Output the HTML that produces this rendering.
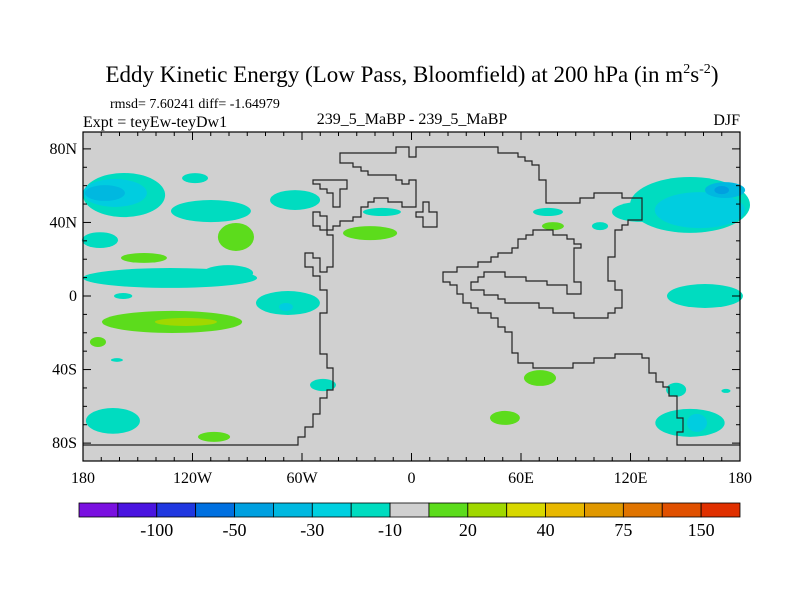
<!DOCTYPE html>
<html><head><meta charset="utf-8"><style>
html,body{margin:0;padding:0;background:#fff;}
svg{display:block;font-family:"Liberation Serif",serif;}
</style></head><body>
<svg id="chart" width="800" height="600" viewBox="0 0 800 600">
<text x="412" y="82" text-anchor="middle" font-size="23">Eddy Kinetic Energy (Low Pass, Bloomfield) at 200 hPa (in m<tspan dy="-9" font-size="14">2</tspan><tspan dy="9">s</tspan><tspan dy="-9" font-size="14">-2</tspan><tspan dy="9">)</tspan></text>
<text x="110" y="108" font-size="14">rmsd= 7.60241 diff= -1.64979</text>
<text x="83" y="127" font-size="16">Expt = teyEw-teyDw1</text>
<text x="412" y="124" text-anchor="middle" font-size="16">239_5_MaBP - 239_5_MaBP</text>
<text x="740" y="125" text-anchor="end" font-size="16">DJF</text>
<rect x="83" y="132" width="657" height="329" fill="#d0d0d0"/>
<g id="blobs"></g>
<g fill="none" stroke="#222" stroke-width="1.2">
<polyline points="83,445 298,445 298,437 305,437 305,427 313,427 313,414 320,414 320,398 327,398 327,390 333,390 333,368 327,368 327,354 320,354 320,313 327,313 327,290 320,290 320,276 313,276 313,267 305,267 305,253 313,253 313,258 320,258 320,272 327,272 327,267 333,267 333,235 327,235 327,230 320,230 320,226 313,226 313,212 320,212 320,216 327,216 327,230 333,230 333,226 340,226 340,221 353,221 353,217 361,217 361,207 368,207 368,202 374,202 374,198 388,198 388,202 402,202 402,207 416,207 416,180 409,180 409,184 402,184 402,180 396,180 396,175 368,175 368,171 361,171 361,167 353,167 353,163 340,163 340,153 396,153 396,147 409,147 409,157 416,157 416,147 498,147 498,153 518,153 518,157 525,157 525,161 532,161 532,165 539,165 539,180 546,180 546,203 580,203 580,198 594,198 594,193 622,193 622,198 642,198 642,220 628,220 628,225 622,225 622,230 615,230 615,257 608,257 608,281 615,281 615,290 622,290 622,308 615,308 615,313 608,313 608,318 574,318 574,313 553,313 553,308 539,308 539,303 505,303 505,299 498,299 498,295 484,295 484,290 471,290 471,282 478,282 478,277 484,277 484,272 505,272 505,277 526,277 526,281 547,281 547,285 567,285 567,294 581,294 581,282 574,282 574,248 581,248 581,244 574,244 574,239 567,239 567,235 553,235 553,230 533,230 533,235 526,235 526,239 518,239 518,248 512,248 512,253 498,253 498,257 491,257 491,262 478,262 478,267 457,267 457,272 443,272 443,282 450,282 450,285 457,285 457,294 463,294 463,303 471,303 471,308 478,308 478,313 491,313 491,318 498,318 498,327 505,327 505,332 512,332 512,353 518,353 518,363 533,363 533,368 573,368 573,363 594,363 594,358 615,358 615,354 642,354 642,358 649,358 649,373 656,373 656,382 663,382 663,387 669,387 669,396 677,396 677,418 683,418 683,432 677,432 677,445 740,445"/>
<polygon points="313,180 347,180 347,189 340,189 340,207 333,207 333,193 327,193 327,189 320,189 320,184 313,184"/>
<polygon points="416,212 423,212 423,202 429,202 429,212 437,212 437,227 423,227 423,217 416,217"/>
</g>
<g id="axes"></g>
<rect x="83" y="132" width="657" height="329" fill="none" stroke="#000" stroke-width="1.2"/>
<g id="cbar"></g>
</svg>
<script>
const NS='http://www.w3.org/2000/svg';
// blob data: lon, lat, lon-radius, lat-radius, level index
const blobLon=[-157.5,-162.5,-168,-118.6,-109.9,-96.2,-170.7,-146.6,-132.3,-100.5,-158,-67.7,-68.8,-131.2,-123.6,-171.8,-161.4,-48.5,-163.6,-108.2,-63.8,-16.2,-22.7,74.8,77.5,103.3,152.6,125.2,158,171.8,170,160.8,70.4,51.2,145,152.6,156.4,172.3];
const blobLat=[54.9,56,56,64.1,46.2,32.1,30.4,20.7,9.8,12.5,0,-3.8,-6,-14.1,-14.1,-25,-34.8,-48.4,-67.9,-76.6,52.2,45.7,34.2,45.7,38,38,49.5,45.7,46.7,57.6,57.6,0,-44.6,-66.3,-51,-69,-69,-51.6];
const blobRLon=[22.5,17.5,11,7.1,21.9,9.9,9.9,12.6,47.7,13.7,5,17.5,3.8,38.4,17,4.4,3.3,7.1,14.8,8.8,13.7,10.4,14.8,8.2,6,4.4,32.9,15.3,24.7,11,4,20.8,8.8,8.2,5.5,19,5.5,2.5];
const blobRLat=[12,7.6,4.3,2.7,6,7.6,4.3,2.7,5.4,4.3,1.6,6.5,2.2,6,2.2,2.7,1,3.3,7,2.7,5.4,2.2,3.8,2.2,2.2,2.2,15.2,5.4,9.8,4.3,2.2,6.5,4.3,3.8,3.8,7.6,4.9,1.1];
const blobLevel=[-10,-20,-30,-10,-10,10,-10,10,-10,-10,-10,-10,-20,10,20,10,-10,-10,-10,10,-10,-10,10,-10,10,-10,-10,-10,-20,-30,-40,-10,10,10,-10,-10,-20,-10];
const levelColor={'-40':'#00a0e0','-30':'#00b8e0','-20':'#00cde0','-10':'#00dcc0','10':'#5cdc1c','20':'#a0d800'};
const cbarColors=['#7a10e0','#4a14e0','#2038e0','#0070e0','#00a0e0','#00b8e0','#00d0e0','#00dcc0','#d0d0d0','#5cdc1c','#a0d800','#d8d800','#e8b800','#e09800','#e07400','#e05000','#e03000'];
const cbarLabels=['-100','-50','-30','-10','20','40','75','150'];
const lonTicks=[-180,-120,-60,0,60,120,180];
const lonTickLabels=['180','120W','60W','0','60E','120E','180'];
const latTicks=[80,40,0,-40,-80];
const latTickLabels=['80N','40N','0','40S','80S'];
function xLon(l){return 411.5+l*1.825;}
function yLat(l){return 296-l*1.8389;}
const bg=document.getElementById('blobs');
const order=blobLevel.map((v,i)=>i).sort((a,b)=>Math.abs(blobLevel[a])-Math.abs(blobLevel[b]));
order.forEach(i=>{
  const e=document.createElementNS(NS,'ellipse');
  e.setAttribute('cx',xLon(blobLon[i]));e.setAttribute('cy',yLat(blobLat[i]));
  e.setAttribute('rx',blobRLon[i]*1.825);e.setAttribute('ry',blobRLat[i]*1.8389);
  e.setAttribute('fill',levelColor[String(blobLevel[i])]);
  
  
  bg.appendChild(e);
});
const ax=document.getElementById('axes');
function line(x1,y1,x2,y2,name){const l=document.createElementNS(NS,'line');l.setAttribute('x1',x1);l.setAttribute('y1',y1);l.setAttribute('x2',x2);l.setAttribute('y2',y2);l.setAttribute('stroke','#000');l.setAttribute('stroke-width','1');


ax.appendChild(l);}
function text(x,y,s,anchor,name){const t=document.createElementNS(NS,'text');t.setAttribute('x',x);t.setAttribute('y',y);t.setAttribute('text-anchor',anchor);t.setAttribute('font-size','16');t.textContent=s;


ax.appendChild(t);}
for(let l=-180;l<=180;l+=10){const x=xLon(l);const m=(l%60===0)?8:4;line(x,461,x,461-m,'x-tick');line(x,132,x,132+m,'x-tick');}
for(let l=-90;l<=90;l+=10){if(Math.abs(l)===90)continue;const y=yLat(l);const m=(l%40===0)?8:4;line(83,y,83+m,y,'y-tick');line(740,y,740-m,y,'y-tick');}
lonTicks.forEach((l,i)=>text(xLon(l),483,lonTickLabels[i],'middle','x-tick-label'));
latTicks.forEach((l,i)=>text(77,yLat(l)+5,latTickLabels[i],'end','y-tick-label'));
const cb=document.getElementById('cbar');const w=661/cbarColors.length;
cbarColors.forEach((c,i)=>{const r=document.createElementNS(NS,'rect');r.setAttribute('x',79+i*w);r.setAttribute('y',503);r.setAttribute('width',w);r.setAttribute('height',14);r.setAttribute('fill',c);r.setAttribute('stroke','#000');r.setAttribute('stroke-width','0.8');


cb.appendChild(r);});
cbarLabels.forEach((s,i)=>{const t=document.createElementNS(NS,'text');t.setAttribute('x',79+(i+1)*2*w);t.setAttribute('y',536);t.setAttribute('text-anchor','middle');t.setAttribute('font-size','18');t.textContent=s;


cb.appendChild(t);});
</script>
</body></html>
